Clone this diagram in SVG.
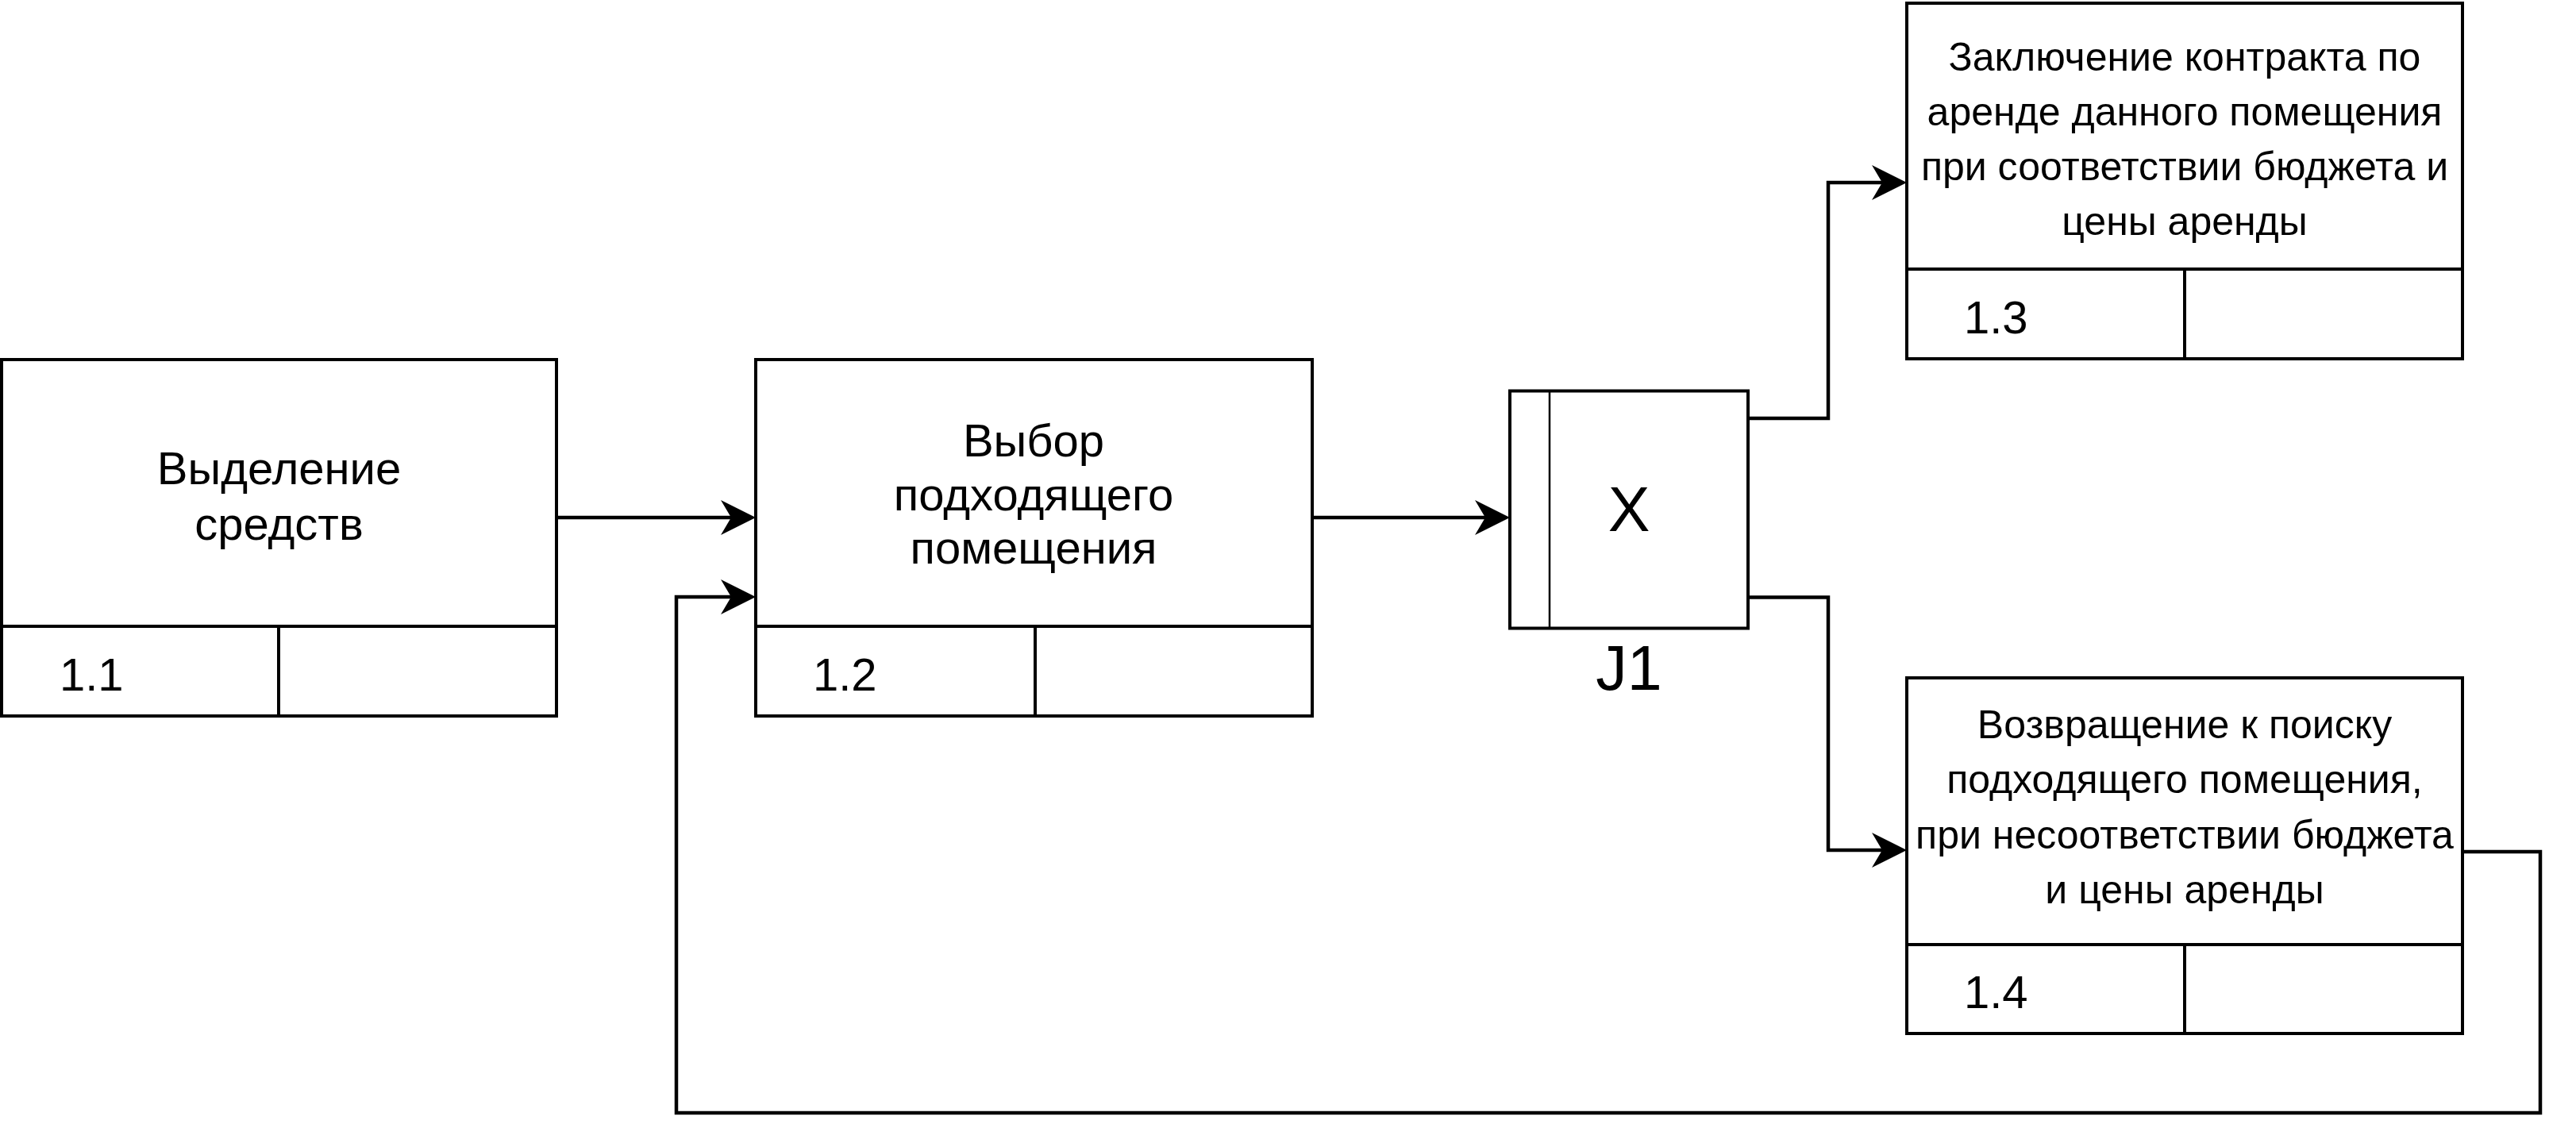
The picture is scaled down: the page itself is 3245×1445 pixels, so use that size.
<svg xmlns="http://www.w3.org/2000/svg" width="3245" height="1445" viewBox="0 0 3245 1445">
  <style>
    .box { fill: #ffffff; stroke: #000000; stroke-width: 4; }
    .div { fill: none; stroke: #000000; stroke-width: 4; }
    .thin { fill: none; stroke: #000000; stroke-width: 2.5; }
    .edge { fill: none; stroke: #000000; stroke-width: 4.5; }
    text { font-family: "Liberation Sans", Arial, sans-serif; fill: #000000; }
    .main { font-size: 58px; text-anchor: middle; }
    .small { font-size: 50px; text-anchor: middle; }
    .num { font-size: 58px; }
    .big { font-size: 79px; text-anchor: middle; }
  </style>
  <defs>
    <marker id="arrow" markerUnits="userSpaceOnUse" markerWidth="46" markerHeight="46" viewBox="0 0 46 46" refX="32" refY="23" orient="auto">
      <path d="M0,1 L44,23 L0,45 L13,23 Z" fill="#000000"/>
    </marker>
  </defs>
  <rect width="3245" height="1445" fill="#ffffff"/>

  <g id="connectors">
    <path class="edge" d="M701,652 H940" marker-end="url(#arrow)"/>
    <path class="edge" d="M1653,652 H1890" marker-end="url(#arrow)"/>
    <path class="edge" d="M2202,527 H2303 V230 H2390" marker-end="url(#arrow)"/>
    <path class="edge" d="M2202,752.5 H2303 V1071 H2390" marker-end="url(#arrow)"/>
    <path class="edge" d="M3102,1073 H3200 V1402 H852 V752 H940" marker-end="url(#arrow)"/>
  </g>

  <g id="node-1-1">
    <rect class="box" x="2" y="453" width="699" height="449"/>
    <path class="div" d="M2,789 H701 M351,789 V902"/>
    <text class="main" x="351.5" y="610">Выделение</text>
    <text class="main" x="351.5" y="680">средств</text>
    <text class="num" x="75" y="870">1.1</text>
  </g>

  <g id="node-1-2">
    <rect class="box" x="952" y="453" width="701" height="449"/>
    <path class="div" d="M952,789 H1653 M1304,789 V902"/>
    <text class="main" x="1302" y="575">Выбор</text>
    <text class="main" x="1302" y="643">подходящего</text>
    <text class="main" x="1302" y="710">помещения</text>
    <text class="num" x="1024" y="870">1.2</text>
  </g>

  <g id="junction-j1">
    <rect class="box" x="1902" y="492.5" width="300" height="299"/>
    <path class="thin" d="M1952,492.5 V791.5"/>
    <text class="big" x="2052" y="669">X</text>
    <text class="big" x="2052" y="869">J1</text>
  </g>

  <g id="node-1-3">
    <rect class="box" x="2402" y="4" width="700" height="448"/>
    <path class="div" d="M2402,339 H3102 M2752,339 V452"/>
    <text class="small" x="2752" y="89">Заключение контракта по</text>
    <text class="small" x="2752" y="158">аренде данного помещения</text>
    <text class="small" x="2752" y="227">при соответствии бюджета и</text>
    <text class="small" x="2752" y="296">цены аренды</text>
    <text class="num" x="2474" y="420">1.3</text>
  </g>

  <g id="node-1-4">
    <rect class="box" x="2402" y="854" width="700" height="448"/>
    <path class="div" d="M2402,1190 H3102 M2752,1190 V1302"/>
    <text class="small" x="2752" y="930">Возвращение к поиску</text>
    <text class="small" x="2752" y="999">подходящего помещения,</text>
    <text class="small" x="2752" y="1069">при несоответствии бюджета</text>
    <text class="small" x="2752" y="1138">и цены аренды</text>
    <text class="num" x="2474" y="1270">1.4</text>
  </g>
</svg>
